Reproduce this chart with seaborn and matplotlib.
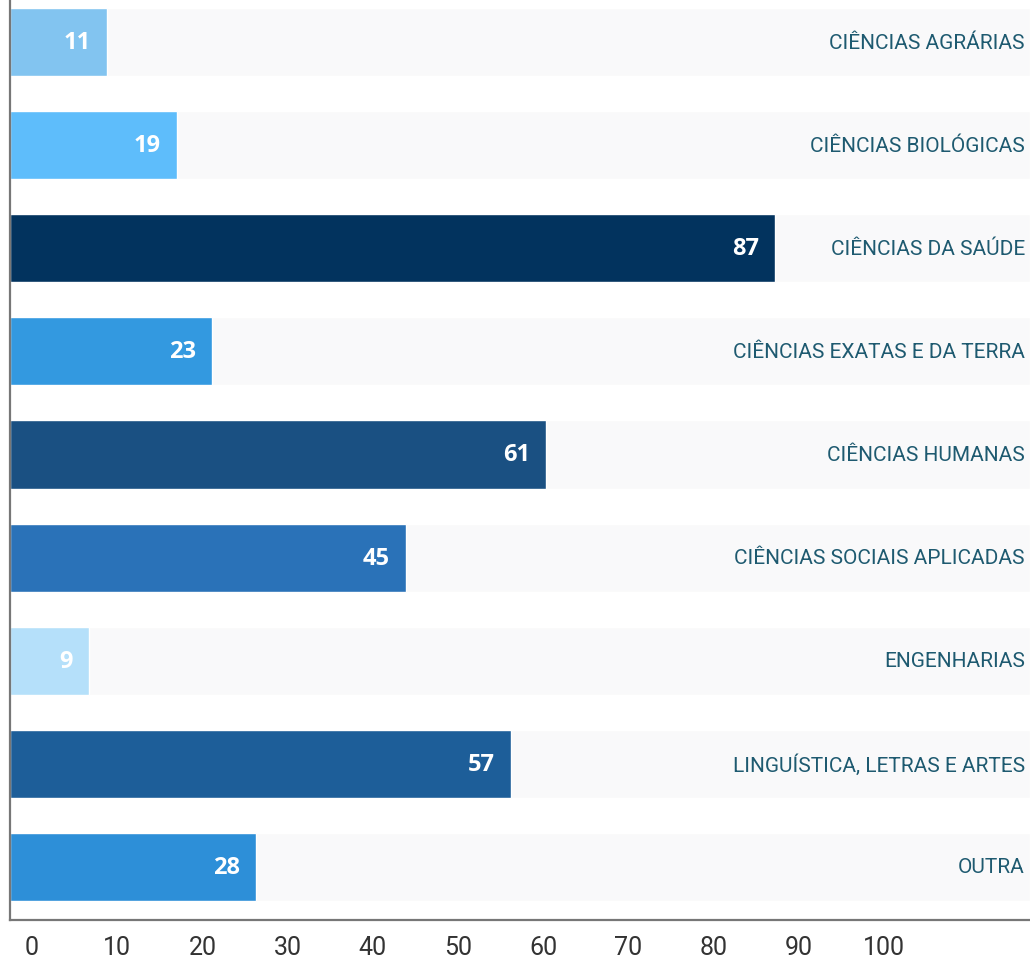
import pandas as pd
import seaborn as sns
import matplotlib.pyplot as plt

# dados
categorias = [
    "CIÊNCIAS AGRÁRIAS",
    "CIÊNCIAS BIOLÓGICAS",
    "CIÊNCIAS DA SAÚDE",
    "CIÊNCIAS EXATAS E DA TERRA",
    "CIÊNCIAS HUMANAS",
    "CIÊNCIAS SOCIAIS APLICADAS",
    "ENGENHARIAS",
    "LINGUÍSTICA, LETRAS E ARTES",
    "OUTRA",
]
valores = [11, 19, 87, 23, 61, 45, 9, 57, 28]
cores = ["#82c4f0", "#5ebdfb", "#02335e", "#3399e0", "#1a5082",
         "#2a72b8", "#b5e0fa", "#1d5e99", "#2d8fd8"]
ticks_eixo = [0, 10, 20, 30, 40, 50, 60, 70, 80, 90, 100]

X_MAX = 116

df = pd.DataFrame({"categoria": categorias, "valor": valores})
df["fundo"] = X_MAX

sns.set_theme(style="white")
plt.rcParams["font.family"] = ["Roboto", "DejaVu Sans"]

fig = plt.figure(figsize=(10.30, 9.62), dpi=100)
ax = fig.add_axes([10 / 1030, 41 / 962, 1020 / 1030, 921 / 962])

# faixas de fundo
sns.barplot(data=df, x="fundo", y="categoria", color="#f9f9fa",
            width=0.66, orient="h", ax=ax)
# barras
sns.barplot(data=df, x="valor", y="categoria", hue="categoria",
            palette=cores, width=0.66, orient="h", legend=False,
            dodge=False, saturation=1, ax=ax)

ax.set_xlim(0, X_MAX)
ax.set_ylim(8.514, -0.417)

# rótulos de valor
for i, v in enumerate(valores):
    ax.annotate(str(v), xy=(v, i), xytext=(-11.5, 0),
                textcoords="offset points", ha="right", va="center",
                color="white", fontsize=17, fontweight="bold",
                family=["Open Sans", "DejaVu Sans"])

# nomes das categorias
for i, c in enumerate(categorias):
    ax.text(0.995, i, c, transform=ax.get_yaxis_transform(),
            ha="right", va="center", color="#1e5a70", fontsize=15)

ax.set_yticks([])
ax.set_ylabel("")
ax.set_xlabel("")

# eixo x com rótulos deslocados, como no original
ax.set_xticks([2.5 + t * 0.969 for t in ticks_eixo])
ax.set_xticklabels([str(t) for t in ticks_eixo])
ax.tick_params(axis="x", length=0, pad=11, labelsize=18, labelcolor="#333333")

for s in ["top", "right"]:
    ax.spines[s].set_visible(False)
for s in ["left", "bottom"]:
    ax.spines[s].set_color("#777777")
    ax.spines[s].set_linewidth(1.6)

fig.savefig("out.png", dpi=100)
